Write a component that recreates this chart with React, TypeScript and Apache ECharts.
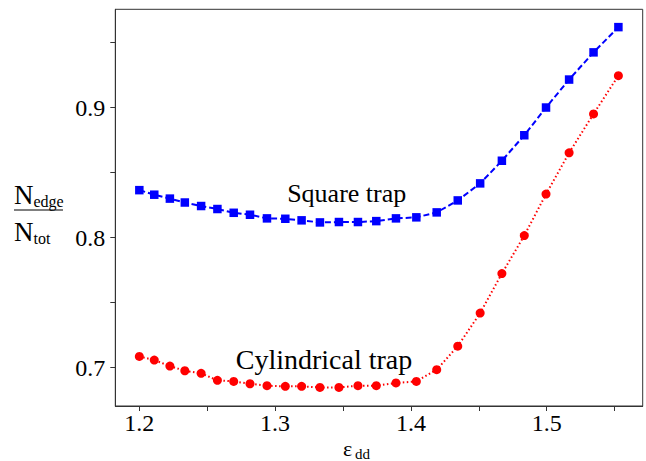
import React, { useEffect, useRef } from "react";
import * as echarts from "echarts";

// x values (epsilon_dd), shared by both series
const epsDD = [
  1.2, 1.211, 1.2225, 1.2335, 1.2455, 1.2575, 1.2695, 1.2815, 1.294, 1.3075,
  1.3195, 1.333, 1.347, 1.361, 1.3745, 1.389, 1.404, 1.419, 1.4345, 1.451,
  1.467, 1.4835, 1.4995, 1.5165, 1.5345, 1.5528,
];
// N_edge / N_tot, square trap
const squareTrap = [
  0.8365, 0.833, 0.83, 0.827, 0.8243, 0.822, 0.8191, 0.8176, 0.8148, 0.8145,
  0.8133, 0.8117, 0.812, 0.812, 0.8127, 0.8148, 0.8156, 0.8194, 0.8286, 0.8417,
  0.8591, 0.8787, 0.9, 0.9215, 0.9424, 0.9618,
];
// N_edge / N_tot, cylindrical trap
const cylindricalTrap = [
  0.7087, 0.7059, 0.7013, 0.6977, 0.6957, 0.6903, 0.6895, 0.6877, 0.6862, 0.6857,
  0.6857, 0.6849, 0.6849, 0.6862, 0.6862, 0.6883, 0.6895, 0.6985, 0.7166, 0.742,
  0.7724, 0.8016, 0.8335, 0.8652, 0.8951, 0.9245,
];
const xTicks = [1.2, 1.25, 1.3, 1.35, 1.4, 1.45, 1.5, 1.55];
const xLabels = [1.2, 1.3, 1.4, 1.5];
const yTicks = [0.7, 0.75, 0.8, 0.85, 0.9, 0.95];
const yLabels = [0.7, 0.8, 0.9];

const SERIF = "Liberation Serif";

export default function App() {
  const ref = useRef<HTMLDivElement>(null);
  useEffect(() => {
    if (!ref.current) return;
    const chart = echarts.init(ref.current, null, { renderer: "svg" });
    const axisColor = "#333";
    const txt = (text: string, x: number, y: number, size: number, align = "left") => ({
      type: "text",
      x,
      y,
      style: {
        text,
        font: `${size}px ${SERIF}`,
        fill: "#000",
        align,
        verticalAlign: "middle",
      },
    });
    chart.setOption({
      animation: false,
      textStyle: { fontFamily: SERIF },
      grid: {
        left: 115.3,
        top: 9.3,
        right: 3.3,
        bottom: 55,
        show: true,
        borderColor: axisColor,
        borderWidth: 1,
        backgroundColor: "transparent",
        containLabel: false,
        outerBoundsMode: "none",
      },
      xAxis: {
        type: "value",
        min: 1.1823,
        max: 1.5707,
        splitLine: { show: false },
        axisLine: { show: true, lineStyle: { color: axisColor, width: 1 } },
        axisTick: {
          show: true,
          length: 5,
          customValues: xTicks,
          lineStyle: { color: axisColor, width: 1 },
        },
        axisLabel: {
          customValues: xLabels,
          formatter: (v: number) => v.toFixed(1),
          fontFamily: SERIF,
          fontSize: 24,
          color: "#000",
          margin: 5,
        },
      },
      yAxis: {
        type: "value",
        min: 0.6706,
        max: 0.9755,
        splitLine: { show: false },
        axisLine: { show: true, lineStyle: { color: axisColor, width: 1 } },
        axisTick: {
          show: true,
          length: 5,
          customValues: yTicks,
          lineStyle: { color: axisColor, width: 1 },
        },
        axisLabel: {
          customValues: yLabels,
          formatter: (v: number) => v.toFixed(1),
          fontFamily: SERIF,
          fontSize: 24,
          color: "#000",
          margin: 10,
        },
      },
      series: [
        {
          name: "Square trap",
          type: "line",
          data: epsDD.map((x, i) => [x, squareTrap[i]]),
          symbol: "rect",
          symbolSize: 8.5,
          itemStyle: { color: "#0000ff" },
          lineStyle: { color: "#0000ff", width: 2, type: [6, 3] },
        },
        {
          name: "Cylindrical trap",
          type: "line",
          data: epsDD.map((x, i) => [x, cylindricalTrap[i]]),
          symbol: "circle",
          symbolSize: 9,
          itemStyle: { color: "#ff0000" },
          lineStyle: { color: "#ff0000", width: 2, type: [1.5, 2.5] },
        },
      ],
      graphic: [
        txt("Square trap", 346.7, 193, 26, "center"),
        txt("Cylindrical trap", 324, 359.5, 28, "center"),
        // y-axis name: N_edge / N_tot
        txt("N", 14, 195, 27),
        txt("edge", 33.5, 201.6, 16),
        {
          type: "line",
          shape: { x1: 14, y1: 210, x2: 63, y2: 210 },
          style: { stroke: "#000", lineWidth: 1.2 },
        },
        txt("N", 14, 232, 27),
        txt("tot", 33.5, 238.6, 16),
        // x-axis name: epsilon_dd
        txt("ε", 343, 448, 22),
        txt("dd", 355, 454, 15),
      ],
    });
    return () => chart.dispose();
  }, []);
  return (
    <div
      ref={ref}
      style={{ position: "absolute", left: 0, top: 0, width: 646, height: 461 }}
    />
  );
}
